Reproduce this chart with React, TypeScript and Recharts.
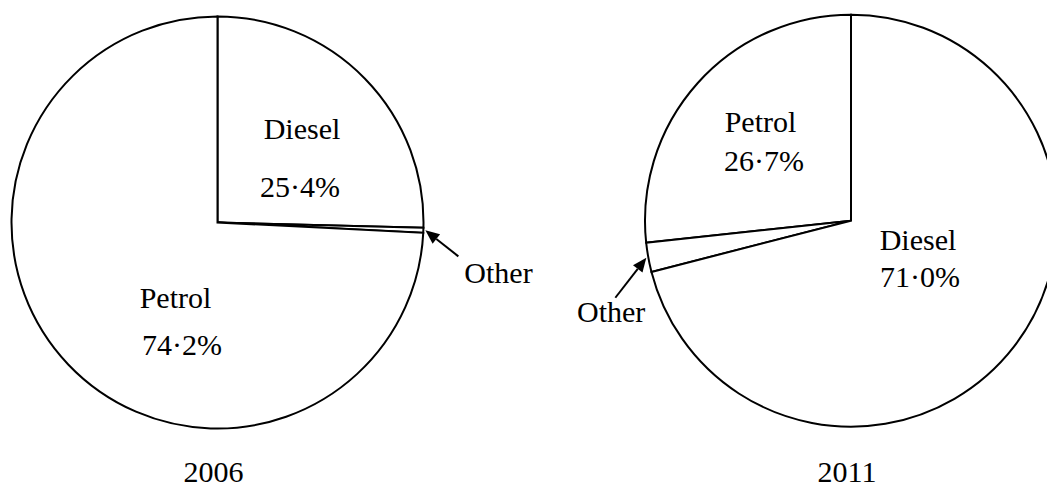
import React from 'react';
import { PieChart, Pie, Cell, Customized } from 'recharts';

const years = ['2006', '2011'];
const fuels2006 = ['Diesel', 'Other', 'Petrol'];
const shares2006 = [25.4, 0.4, 74.2];
const fuels2011 = ['Petrol', 'Other', 'Diesel'];
const shares2011 = [26.7, 2.3, 71.0];

const WIDTH = 1047;
const HEIGHT = 490;
const RADIUS = 206;
const FONT = '"Liberation Serif", "Times New Roman", serif';
const RAD = Math.PI / 180;

// pie centres and label offsets (relative to each pie's centre)
const centres = [
  { cx: 217.5, cy: 222.5 },
  { cx: 851, cy: 220.7 },
];

type Spot = { nx: number; ny: number; vx: number; vy: number };
const spots: Record<string, Record<string, Spot>> = {
  '2006': {
    Diesel: { nx: 84.5, ny: -83.5, vx: 82.5, vy: -25.5 },
    Petrol: { nx: -42, ny: 85.5, vx: -35.5, vy: 132.5 },
  },
  '2011': {
    Petrol: { nx: -90.5, ny: -88.7, vx: -87, vy: -49.7 },
    Diesel: { nx: 67, ny: 29.3, vx: 69, vy: 66.3 },
  },
};
// arrow tail and "Other" text relative to arrow tip
const otherArrows: Record<string, { tx: number; ty: number; lx: number; ly: number; anchor: 'start' | 'end' }> = {
  '2006': { tx: 33, ty: 26, lx: 39, ly: 53, anchor: 'start' },
  '2011': { tx: -31, ty: 40, lx: -1, ly: 64, anchor: 'end' },
};

const fmt = (v: number) => `${v.toFixed(1).replace('.', '\u00b7')}%`;

function makeLabel(year: string) {
  return (props: any) => {
    const { cx, cy, midAngle, outerRadius, name, value } = props;
    if (name === 'Other') {
      const a = otherArrows[year];
      const tipX = cx + (outerRadius + 2) * Math.cos(-midAngle * RAD);
      const tipY = cy + (outerRadius + 2) * Math.sin(-midAngle * RAD);
      const tailX = tipX + a.tx;
      const tailY = tipY + a.ty;
      const len = Math.hypot(tipX - tailX, tipY - tailY);
      const ux = (tipX - tailX) / len;
      const uy = (tipY - tailY) / len;
      const bx = tipX - ux * 14;
      const by = tipY - uy * 14;
      const head = `${tipX},${tipY} ${bx - uy * 6},${by + ux * 6} ${bx + uy * 6},${by - ux * 6}`;
      return (
        <g>
          <line x1={tailX} y1={tailY} x2={bx} y2={by} stroke="#000" strokeWidth={2} />
          <polygon points={head} fill="#000" />
          <text x={tipX + a.lx} y={tipY + a.ly} textAnchor={a.anchor} fontFamily={FONT} fontSize={30} fill="#000">
            {name}
          </text>
        </g>
      );
    }
    const s = spots[year][name];
    return (
      <g>
        <text x={cx + s.nx} y={cy + s.ny} textAnchor="middle" fontFamily={FONT} fontSize={30} fill="#000">
          {name}
        </text>
        <text x={cx + s.vx} y={cy + s.vy} textAnchor="middle" fontFamily={FONT} fontSize={30} fill="#000">
          {fmt(value)}
        </text>
      </g>
    );
  };
}

function YearLabels() {
  return (
    <g>
      {years.map((y, i) => (
        <text key={y} x={centres[i].cx - 4} y={482} textAnchor="middle" fontFamily={FONT} fontSize={30} fill="#000">
          {y}
        </text>
      ))}
    </g>
  );
}

export default function App() {
  const data2006 = fuels2006.map((name, i) => ({ name, value: shares2006[i] }));
  const data2011 = fuels2011.map((name, i) => ({ name, value: shares2011[i] }));

  return (
    <div style={{ position: 'absolute', left: 0, top: 0, width: WIDTH, height: HEIGHT, overflow: 'hidden', background: '#fff' }}>
      <PieChart width={WIDTH} height={HEIGHT} margin={{ top: 0, right: 0, bottom: 0, left: 0 }}>
        {/* 2006: clockwise from 12 o'clock */}
        <Pie
          data={data2006}
          dataKey="value"
          nameKey="name"
          cx={centres[0].cx}
          cy={centres[0].cy}
          outerRadius={RADIUS}
          startAngle={90}
          endAngle={-270}
          stroke="#000"
          strokeWidth={2}
          label={makeLabel(years[0])}
          labelLine={false}
          isAnimationActive={false}
        >
          {data2006.map((d) => (
            <Cell key={d.name} fill="#fff" />
          ))}
        </Pie>
        {/* 2011: anticlockwise from 12 o'clock */}
        <Pie
          data={data2011}
          dataKey="value"
          nameKey="name"
          cx={centres[1].cx}
          cy={centres[1].cy}
          outerRadius={RADIUS}
          startAngle={90}
          endAngle={450}
          stroke="#000"
          strokeWidth={2}
          label={makeLabel(years[1])}
          labelLine={false}
          isAnimationActive={false}
        >
          {data2011.map((d) => (
            <Cell key={d.name} fill="#fff" />
          ))}
        </Pie>
        <Customized component={<YearLabels />} />
      </PieChart>
    </div>
  );
}
